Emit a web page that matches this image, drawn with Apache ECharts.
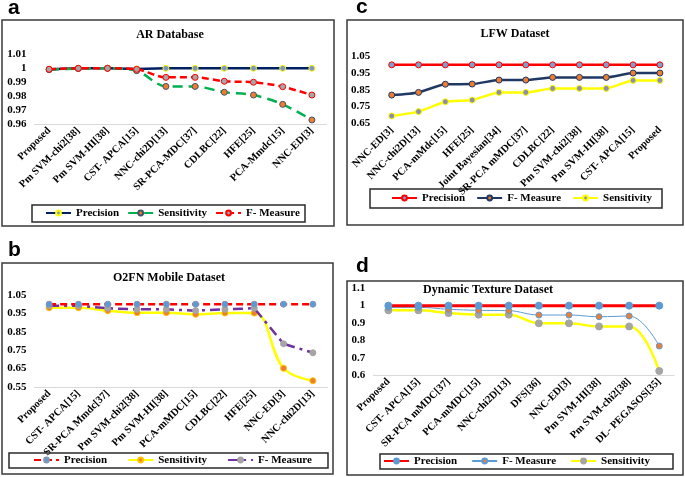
<!DOCTYPE html>
<html><head><meta charset="utf-8">
<script src="https://cdn.jsdelivr.net/npm/echarts@6/dist/echarts.min.js"></script>
<style>html,body{margin:0;padding:0;background:#fff}#c{width:685px;height:477px}</style>
</head><body><div id="c"></div><script>
// ---- Panel a: AR Database ----
const aCategories = ['Proposed','Pm SVM-chi2[38]','Pm SVM-HI[38]','CST- APCA[15]','NNC-chi2D[13]','SR-PCA-MDC[37]','CDLBC[22]','HFE[25]','PCA-Mmdc[15]','NNC-ED[3]'];
const aPrecision   = [0.9993, 1.0, 1.0, 0.9995, 1.0, 1.0, 1.0, 1.0, 1.0, 1.0];
const aSensitivity = [0.999, 0.9998, 1.0, 0.9983, 0.987, 0.987, 0.9828, 0.9808, 0.9741, 0.9629];
const aFMeasure    = [0.9993, 1.0, 1.0, 0.9993, 0.9935, 0.9935, 0.9907, 0.990, 0.9868, 0.9808];
const aTicks = [0.96, 0.97, 0.98, 0.99, 1.0, 1.01];

// ---- Panel b: O2FN Mobile Dataset ----
const bCategories = ['Proposed','CST- APCA[15]','SR-PCA Mmdc[37]','Pm SVM-chi2[38]','Pm SVM-HI[38]','PCA-mMDC[15]','CDLBC[22]','HFE[25]','NNC-ED[3]','NNC-chi2D[13]'];
const bPrecision   = [1.0, 1.0, 1.0, 1.0, 1.0, 1.0, 1.0, 1.0, 1.0, 1.0];
const bSensitivity = [0.981, 0.981, 0.965, 0.954, 0.954, 0.945, 0.952, 0.952, 0.652, 0.584];
const bFMeasure    = [0.992, 0.992, 0.978, 0.972, 0.972, 0.965, 0.972, 0.978, 0.785, 0.736];
const bTicks = [0.55, 0.65, 0.75, 0.85, 0.95, 1.05];

// ---- Panel c: LFW Dataset ----
const cCategories = ['NNC-ED[3]','NNC-chi2D[13]','PCA-mMdc[15]','HFE[25]','Joint Bayesian[34]','SR-PCA mMDC[37]','CDLBC[22]','Pm SVM-chi2[38]','Pm SVM-HI[38]','CST- APCA[15]','Proposed'];
const cPrecision   = [1.0, 1.0, 1.0, 1.0, 1.0, 1.0, 1.0, 1.0, 1.0, 1.0, 1.0];
const cFMeasure    = [0.819, 0.835, 0.884, 0.885, 0.909, 0.909, 0.925, 0.925, 0.925, 0.951, 0.951];
const cSensitivity = [0.694, 0.72, 0.779, 0.789, 0.835, 0.835, 0.859, 0.859, 0.859, 0.907, 0.907];
const cTicks = [0.65, 0.75, 0.85, 0.95, 1.05];

// ---- Panel d: Dynamic Texture Dataset ----
const dCategories = ['Proposed','CST- APCA[15]','SR-PCA mMDC[37]','PCA-mMDC[15]','NNC-chi2D[13]','DFS[36]','NNC-ED[3]','Pm SVM-HI[38]','Pm SVM-chi2[38]','DL- PEGASOS[35]'];
const dPrecision   = [1.0, 1.0, 1.0, 1.0, 1.0, 1.0, 1.0, 1.0, 1.0, 1.0];
const dFMeasure    = [0.99, 0.99, 0.979, 0.973, 0.971, 0.946, 0.946, 0.936, 0.94, 0.767];
const dSensitivity = [0.973, 0.973, 0.957, 0.948, 0.948, 0.898, 0.898, 0.88, 0.88, 0.623];
const dTicks = [0.6, 0.7, 0.8, 0.9, 1.0, 1.1];

const SERIF = '"Liberation Serif", "Times New Roman", serif';
const chart = echarts.init(document.getElementById('c'));

const grids = [
  {left: 34.5, top: 54.4, width: 292, height: 69.6},
  {left: 34.5, top: 295, width: 293, height: 92},
  {left: 378.3, top: 56.5, width: 295, height: 66.8},
  {left: 373.3, top: 288.3, width: 301, height: 86.7}
];
const cats = [aCategories, bCategories, cCategories, dCategories];
const ticks = [aTicks, bTicks, cTicks, dTicks];
const decs = [2, 2, 2, 1];
const showBase = [true, true, false, true];

const xAxis = cats.map((c, i) => ({
  type: 'category', gridIndex: i, data: c, boundaryGap: true,
  axisTick: {show: false},
  axisLine: {show: showBase[i], lineStyle: {color: '#d9d9d9', width: 1}},
  axisLabel: {rotate: 45, interval: 0, margin: 5, color: '#000', fontFamily: SERIF, fontWeight: 'bold', fontSize: 10.5}
}));
const yAxis = ticks.map((t, i) => ({
  type: 'value', gridIndex: i, min: t[0], max: t[t.length - 1],
  interval: +(t[1] - t[0]).toFixed(4),
  splitLine: {show: false}, axisLine: {show: false}, axisTick: {show: false},
  axisLabel: {margin: 8, color: '#000', fontFamily: SERIF, fontWeight: 'bold', fontSize: 11,
    formatter: v => String(parseFloat((+v).toFixed(decs[i])))}
}));

function S(panel, name, data, line, sym, extra) {
  const idx = ['a','b','c','d'].indexOf(panel);
  return Object.assign({
    type: 'line', name: panel + '|' + name, xAxisIndex: idx, yAxisIndex: idx, data: data,
    symbol: 'circle', symbolSize: sym.size || 6, showAllSymbol: true,
    lineStyle: line, itemStyle: {color: sym.fill, borderColor: sym.border, borderWidth: sym.bw || 1},
    emphasis: {disabled: true}, animation: false
  }, extra || {});
}

const series = [
  // a
  S('a', 'Precision', aPrecision, {color: '#002060', width: 2.5}, {fill: '#7f96c4', border: '#ffff00'}, {z: 2}),
  S('a', 'Sensitivity', aSensitivity, {color: '#00b050', width: 2.5, type: [10, 6]}, {fill: '#ed7d31', border: '#44546a'}, {smooth: 0.3, z: 3}),
  S('a', 'F- Measure', aFMeasure, {color: '#ff0000', width: 2.5, type: [7, 4]}, {fill: '#a5a5a5', border: '#ff0000'}, {smooth: 0.3, z: 4}),
  // b
  S('b', 'Precision', bPrecision, {color: '#ff0000', width: 2.5, type: [7, 4]}, {fill: '#5b9bd5', border: '#8497b0'}, {z: 5}),
  S('b', 'Sensitivity', bSensitivity, {color: '#ffff00', width: 2.5}, {fill: '#ed7d31', border: '#ffc000'}, {smooth: 0.4, z: 3}),
  S('b', 'F- Measure', bFMeasure, {color: '#7030a0', width: 2.5, type: [10, 5, 3, 5]}, {fill: '#a5a5a5', border: '#a5a5a5'}, {z: 4}),
  // c
  S('c', 'Precision', cPrecision, {color: '#ff0000', width: 2.5}, {fill: '#7f9fcf', border: '#ff0000'}),
  S('c', 'F- Measure', cFMeasure, {color: '#1f3864', width: 2.5}, {fill: '#ed7d31', border: '#1f3864'}, {smooth: 0.2}),
  S('c', 'Sensitivity', cSensitivity, {color: '#ffff00', width: 2.5}, {fill: '#8c8fa8', border: '#ffff00'}, {smooth: 0.2}),
  // d
  S('d', 'Precision', dPrecision, {color: '#ff0000', width: 3}, {fill: '#5b9bd5', border: '#5b9bd5', size: 7}, {z: 5}),
  S('d', 'F- Measure', dFMeasure, {color: '#5b9bd5', width: 1}, {fill: '#ed7d31', border: '#5b9bd5', size: 6}, {smooth: 0.4, z: 4}),
  S('d', 'Sensitivity', dSensitivity, {color: '#ffff00', width: 2.5}, {fill: '#a5a5a5', border: '#a5a5a5', size: 7}, {smooth: 0.4, z: 3})
];

const legTxt = {color: '#000', fontFamily: SERIF, fontWeight: 'bold', fontSize: 11};
function L(panel, names, left, top, gap) {
  return {data: names.map(n => panel + '|' + n), left: left, top: top, itemGap: gap, itemWidth: 25, itemHeight: 6,
    padding: 0, selectedMode: false, textStyle: legTxt, formatter: n => n.split('|')[1]};
}
const legend = [
  L('a', ['Precision', 'Sensitivity', 'F- Measure'], 45, 207.5, 8),
  L('b', ['Precision', 'Sensitivity', 'F- Measure'], 33, 454.5, 20),
  L('c', ['Precision', 'F- Measure', 'Sensitivity'], 391, 192.5, 11),
  L('d', ['Precision', 'F- Measure', 'Sensitivity'], 383, 455.5, 14)
];

function frame(x, y, w, h, lw, col) {
  return {type: 'rect', shape: {x: x, y: y, width: w, height: h}, silent: true, z: -1,
    style: {fill: null, stroke: col, lineWidth: lw}};
}
function txt(t, x, y, font, align) {
  return {type: 'text', x: x, y: y, silent: true,
    style: {text: t, font: font, fill: '#000', textAlign: align, textVerticalAlign: 'middle'}};
}
const titleFont = 'bold 12px ' + SERIF;
const letterFont = 'bold 21px "Liberation Sans", Arial, sans-serif';
const graphic = [
  frame(2, 20, 332, 206, 1.5, '#3a3a3a'),
  frame(2, 263, 331, 211, 1.5, '#3a3a3a'),
  frame(347, 20, 336, 205, 1.5, '#3a3a3a'),
  frame(347, 281, 336, 194, 1.5, '#3a3a3a'),
  frame(32, 205, 273, 17, 1.5, '#2a2a2a'),
  frame(9, 453, 319, 15, 1.5, '#2a2a2a'),
  frame(370, 189, 292, 19, 1.5, '#2a2a2a'),
  frame(380, 454, 293, 15, 1.5, '#2a2a2a'),
  txt('a', 8, 8, letterFont, 'left'),
  txt('b', 8, 250, letterFont, 'left'),
  txt('c', 356, 7, letterFont, 'left'),
  txt('d', 356, 266, letterFont, 'left'),
  txt('AR Database', 170, 35, titleFont, 'center'),
  txt('O2FN Mobile Dataset', 169, 278, titleFont, 'center'),
  txt('LFW Dataset', 515, 34, titleFont, 'center'),
  txt('Dynamic Texture Dataset', 488, 290, titleFont, 'center')
];

chart.setOption({
  animation: false,
  backgroundColor: '#fff',
  grid: grids, xAxis: xAxis, yAxis: yAxis, series: series, legend: legend, graphic: graphic
});
</script></body></html>
